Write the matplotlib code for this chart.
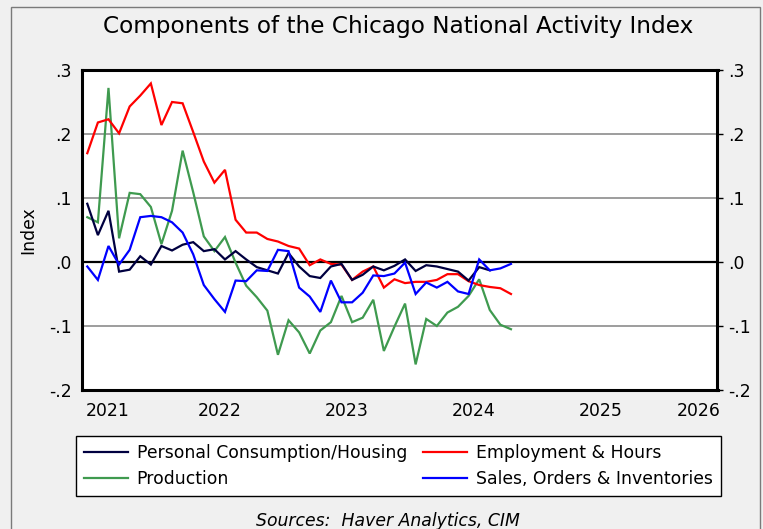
import numpy as np
import matplotlib
matplotlib.use("Agg")
import matplotlib.pyplot as plt
from matplotlib.patches import Rectangle
from matplotlib.lines import Line2D

plt.rcParams['font.family'] = ['DejaVu Sans']

# ---- data (monthly, Jun 2021 .. Oct 2024) ----
start_year = 2021
start_month = 6  # June

employment = [0.170, 0.218, 0.223, 0.201, 0.243, 0.260, 0.279, 0.214, 0.250, 0.248,
              0.203, 0.157, 0.124, 0.144, 0.066, 0.046, 0.046, 0.036, 0.032, 0.025,
              0.021, -0.005, 0.004, -0.003, -0.004, -0.028, -0.015, -0.007, -0.040, -0.027,
              -0.033, -0.031, -0.031, -0.028, -0.019, -0.019, -0.030, -0.036, -0.039, -0.041,
              -0.050]
production = [0.070, 0.062, 0.272, 0.037, 0.108, 0.106, 0.086, 0.028, 0.080, 0.174,
              0.109, 0.040, 0.017, 0.039, -0.001, -0.037, -0.055, -0.076, -0.145, -0.091,
              -0.110, -0.143, -0.107, -0.094, -0.053, -0.094, -0.087, -0.059, -0.139, -0.101,
              -0.065, -0.160, -0.089, -0.100, -0.079, -0.070, -0.053, -0.027, -0.075, -0.098,
              -0.105]
consumption = [0.091, 0.042, 0.080, -0.015, -0.012, 0.009, -0.004, 0.025, 0.018, 0.027,
               0.031, 0.017, 0.020, 0.004, 0.017, 0.004, -0.008, -0.013, -0.018, 0.014,
               -0.007, -0.022, -0.025, -0.007, -0.003, -0.028, -0.020, -0.007, -0.013, -0.006,
               0.004, -0.014, -0.005, -0.007, -0.011, -0.015, -0.029, -0.008, -0.013]
sales = [-0.007, -0.028, 0.025, -0.004, 0.019, 0.070, 0.072, 0.070, 0.062, 0.046,
         0.012, -0.036, -0.058, -0.078, -0.029, -0.030, -0.013, -0.014, 0.019, 0.017,
         -0.040, -0.054, -0.078, -0.029, -0.063, -0.063, -0.048, -0.021, -0.022, -0.018,
         -0.001, -0.050, -0.032, -0.040, -0.031, -0.046, -0.050, 0.004, -0.013, -0.010,
         -0.003]

year_labels = ['2021', '2022', '2023', '2024', '2025', '2026']
y_ticks = [0.3, 0.2, 0.1, 0.0, -0.1, -0.2]
y_tick_labels = ['.3', '.2', '.1', '.0', '-.1', '-.2']

series_names = ['Personal Consumption/Housing', 'Production',
                'Employment & Hours', 'Sales, Orders & Inventories']
colors = {'Personal Consumption/Housing': '#000040',
          'Production': '#3f9a4f',
          'Employment & Hours': '#ff0000',
          'Sales, Orders & Inventories': '#0000ff'}


def month_x(n):
    # mid-month position in decimal years
    return start_year + (start_month - 1 + np.arange(n) + 0.5) / 12.0


W, H = 763, 529
fig = plt.figure(figsize=(W / 100, H / 100), dpi=100)
fig.patch.set_facecolor('#f0f0f0')

# outer border
fig.add_artist(Rectangle((11 / W, -0.02), (760 - 11) / W, 1 - 7 / H + 0.02,
                         transform=fig.transFigure, fill=False,
                         edgecolor='#7a7a7a', linewidth=1.0))

L, R, T, B = 82, 717.5, 70, 390
ax = fig.add_axes([L / W, (H - B) / H, (R - L) / W, (B - T) / H])
ax.set_facecolor('white')

xmin = start_year + (start_month - 1) / 12.0
xmax = xmin + 5.0
ax.set_xlim(xmin, xmax)
ax.set_ylim(-0.2, 0.3)

# grid lines
for v in [0.2, 0.1, -0.1]:
    ax.axhline(v, color='#8c8c8c', lw=1.2, zorder=1)
ax.axhline(0.0, color='black', lw=1.6, zorder=1)

data = {'Personal Consumption/Housing': consumption,
        'Production': production,
        'Employment & Hours': employment,
        'Sales, Orders & Inventories': sales}
draw_order = ['Production', 'Employment & Hours', 'Personal Consumption/Housing',
              'Sales, Orders & Inventories']
for name in draw_order:
    vals = data[name]
    ax.plot(month_x(len(vals)), vals, color=colors[name], lw=1.6, zorder=3,
            solid_joinstyle='miter')

# x tick labels at mid-year, edge labels kept inside
mids = [int(y) + 0.5 for y in year_labels]
mids[0] = max(mids[0], xmin + 0.205)
mids[-1] = min(mids[-1], xmax - 0.145)
ax.set_xticks(mids)
ax.set_xticklabels(year_labels)
ax.tick_params(axis='x', length=0, labelsize=12.4, pad=9)

ax.set_yticks(y_ticks)
ax.set_yticklabels(y_tick_labels)
ax.tick_params(axis='y', which='both', left=False, right=True, labelleft=True,
               labelright=True, length=4.5, width=1.0, direction='out',
               labelsize=12.4, pad=3)
ax.tick_params(axis='y', left=False, pad=9)
for lbl in ax.get_yticklabels():
    pass
ax.yaxis.set_tick_params(which='major', pad=3)
# left labels padding
for t in ax.yaxis.get_major_ticks():
    t.label1.set_x(-0.0)
    t.set_pad(3)

for s in ax.spines.values():
    s.set_linewidth(2.2)
    s.set_color('black')

ax.set_ylabel('Index', fontsize=12.4, labelpad=8)

fig.text(398.5 / W, 1 - 26 / H, 'Components of the Chicago National Activity Index',
         ha='center', va='center', fontsize=16.7)

handles = [Line2D([], [], color=colors[n], lw=1.6) for n in series_names]
leg = fig.legend(handles, series_names, ncol=2, fontsize=12.4,
                 loc='center', bbox_to_anchor=(398.5 / W, 1 - 466 / H),
                 frameon=True, fancybox=False, edgecolor='black', framealpha=1,
                 handlelength=2.55, handletextpad=0.5, columnspacing=0.95,
                 labelspacing=0.45, borderpad=0.45, borderaxespad=0)
leg.get_frame().set_linewidth(1.0)

fig.text(388 / W, 1 - 521 / H, 'Sources:  Haver Analytics, CIM', ha='center',
         va='center', fontsize=12.4, style='italic')

fig.savefig('out.png', dpi=100, facecolor=fig.get_facecolor())
